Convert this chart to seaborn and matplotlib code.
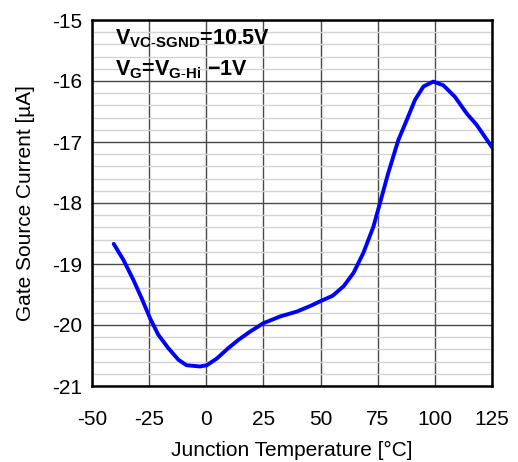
import matplotlib
matplotlib.use("Agg")
import matplotlib.pyplot as plt
import seaborn as sns
import pandas as pd
from matplotlib.ticker import MultipleLocator

temperature = [-40.5, -36.3, -31.9, -28.3, -24.6, -21.0, -16.6, -12.2, -8.6, -2.75,
               0.2, 4.6, 9.6, 14.2, 19.1, 25, 32.3, 39.6, 45.4, 50.5, 55.3, 60.2,
               64.5, 68.7, 73.1, 76, 79.6, 84, 87.7, 91.3, 95, 99.3, 103.7, 108.8,
               113.9, 118.3, 124.9]
current = [-18.67, -18.93, -19.26, -19.56, -19.89, -20.16, -20.38, -20.57, -20.66,
           -20.68, -20.66, -20.55, -20.38, -20.24, -20.11, -19.97, -19.86, -19.78,
           -19.69, -19.60, -19.52, -19.36, -19.14, -18.82, -18.39, -18.0, -17.51,
           -16.97, -16.64, -16.31, -16.09, -16.01, -16.07, -16.26, -16.53, -16.72,
           -17.08]
x_ticks = [-50, -25, 0, 25, 50, 75, 100, 125]
y_ticks = [-21, -20, -19, -18, -17, -16, -15]

sns.set_style("white")
plt.rcParams["font.family"] = ["Liberation Sans", "DejaVu Sans"]
plt.rcParams["axes.unicode_minus"] = False
plt.rcParams["text.color"] = "black"
plt.rcParams["axes.labelcolor"] = "black"
plt.rcParams["mathtext.fontset"] = "custom"
plt.rcParams["mathtext.rm"] = "Liberation Sans"
plt.rcParams["mathtext.bf"] = "Liberation Sans:bold"
plt.rcParams["mathtext.it"] = "Liberation Sans:italic"

df = pd.DataFrame({"T": temperature, "I": current})

fig = plt.figure(figsize=(5.18, 4.62), dpi=100)
ax = fig.add_axes([92 / 518, 76 / 462, 400 / 518, 366 / 462])

ax.set_xlim(-50, 125)
ax.set_ylim(-21, -15)
ax.set_xticks(x_ticks)
ax.set_yticks(y_ticks)
ax.yaxis.set_minor_locator(MultipleLocator(0.2))
ax.grid(which="major", axis="both", color="#4a4a4a", linewidth=1.0)
ax.grid(which="minor", axis="y", color="#d4d4d4", linewidth=1.0)
ax.set_axisbelow(True)

sns.lineplot(data=df, x="T", y="I", ax=ax, color="#0000FF", linewidth=2.8, zorder=3)

for s in ax.spines.values():
    s.set_color("black")
    s.set_linewidth(1.8)
    s.set_visible(True)

ax.tick_params(axis="both", which="both", length=0, labelsize=15, colors="black")
ax.tick_params(axis="x", pad=17)
ax.tick_params(axis="y", pad=7)
ax.set_xlabel("Junction Temperature [°C]", fontsize=15, labelpad=9, color="black")
ax.set_ylabel("Gate Source Current [µA]", fontsize=15, labelpad=12, color="black")

ax.text(0.0575, 0.932, r"$\mathbf{V}_{\mathbf{VC\text{-}SGND}}$=10.5V", color="black",
        transform=ax.transAxes, fontsize=15.5, fontweight="bold", va="baseline", ha="left")
ax.text(0.0575, 0.850, r"$\mathbf{V}_{\mathbf{G}}$=$\mathbf{V}_{\mathbf{G\text{-}Hi}}$" + " \u22121V",
        color="black", transform=ax.transAxes, fontsize=15.5, fontweight="bold",
        va="baseline", ha="left")

fig.savefig("out.png", dpi=100)
